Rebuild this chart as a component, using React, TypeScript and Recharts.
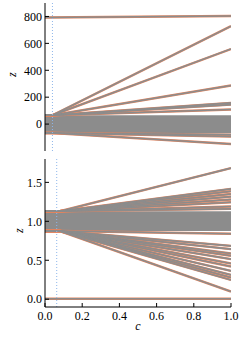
import React from "react";
import {
  ComposedChart,
  Line,
  Area,
  XAxis,
  YAxis,
  ReferenceLine,
} from "recharts";

// x values (c) shared by both panels
const xTicks = [0, 0.2, 0.4, 0.6, 0.8, 1.0];

// top panel
const topTicks = [-200, 0, 200, 400, 600, 800];
const topBand = [-66, 66];
const topFlat = [792, 803];
const topUpEnds = [728, 558, 287, 158, 145, 109];
const topDownEnds = [-78, -92, -148];
const topFan = { kink: 0.04, up: 66, down: -66 };
const topCut = 0.04;

// bottom panel
const botTicks = [0.0, 0.5, 1.0, 1.5];
const botBand = [0.875, 1.13];
const botFlat = [0.005, 0.005];
const botUpEnds = [1.683, 1.416, 1.387, 1.35, 1.317, 1.28, 1.245, 1.19, 1.16];
const botDownEnds = [
  0.84, 0.685, 0.643, 0.587, 0.557, 0.514, 0.459, 0.42, 0.363, 0.312, 0.278,
  0.247, 0.098,
];
const botFan = { kink: 0.08, up: 1.13, down: 0.875 };
const botCut = 0.063;

type Row = { c: number; band: number[]; [k: string]: number | number[] };

// one row per c value, one column per line (l0 = flat line, then fan lines)
const buildTable = (
  flat: number[],
  band: number[],
  fan: { kink: number; up: number; down: number },
  upEnds: number[],
  downEnds: number[]
) => {
  const rows: Row[] = [
    { c: 0, band, l0: flat[0] },
    { c: fan.kink, band },
    { c: 1, band, l0: flat[1] },
  ];
  const fans = [
    ...upEnds.map((e) => [fan.up, e]),
    ...downEnds.map((e) => [fan.down, e]),
  ];
  fans.forEach(([s, e], i) => {
    const k = "l" + (i + 1);
    rows[0][k] = s;
    rows[1][k] = s;
    rows[2][k] = e;
  });
  return { rows, keys: ["l0", ...fans.map((_, i) => "l" + (i + 1))] };
};

const GRAY = "#8c8c8c";
const ORANGE = "#e2845f";
const FONT = "'Liberation Serif', 'DejaVu Serif', serif";
const tickStyle = { fontFamily: FONT, fontSize: 12, fill: "#000" };
const labelStyle = { fontFamily: FONT, fontSize: 12, fontStyle: "italic", fill: "#000" };

const minus = (s: string) => s.replace("-", "\u2212");

type PanelProps = {
  height: number;
  margin: { top: number; right: number; bottom: number; left: number };
  yDomain: [number, number];
  yTicks: number[];
  yFmt: (v: number) => string;
  table: { rows: Row[]; keys: string[] };
  cut: number;
  showX: boolean;
  zOffset: number;
};

const Panel = ({
  height,
  margin,
  yDomain,
  yTicks,
  yFmt,
  table,
  cut,
  showX,
  zOffset,
}: PanelProps) => (
  <ComposedChart width={241} height={height} margin={margin} data={table.rows}>
    <XAxis
      dataKey="c"
      type="number"
      domain={[0, 1]}
      ticks={xTicks}
      allowDataOverflow
      height={showX ? 31 : 0}
      tick={showX ? tickStyle : false}
      tickSize={-4}
      tickMargin={8}
      tickFormatter={(v: number) => v.toFixed(1)}
      stroke="#000"
      label={
        showX
          ? { value: "c", position: "insideBottom", offset: 8, style: labelStyle }
          : undefined
      }
    />
    <XAxis
      xAxisId="top"
      dataKey="c"
      orientation="top"
      type="number"
      domain={[0, 1]}
      ticks={xTicks}
      allowDataOverflow
      height={0}
      tick={false}
      tickSize={-4}
      stroke="#000"
    />
    <YAxis
      type="number"
      domain={yDomain}
      ticks={yTicks}
      allowDataOverflow
      width={45}
      tick={tickStyle}
      tickSize={-4}
      tickMargin={7}
      tickFormatter={(v: number) => minus(yFmt(v))}
      stroke="#000"
      label={{
        value: "z",
        angle: -90,
        position: "insideLeft",
        offset: zOffset,
        style: labelStyle,
      }}
    />
    <YAxis
      yAxisId="r"
      orientation="right"
      type="number"
      domain={yDomain}
      ticks={yTicks}
      allowDataOverflow
      width={0}
      tick={false}
      tickSize={-4}
      stroke="#000"
    />
    {table.keys.map((k) => (
      <Line
        key={"o" + k}
        dataKey={k}
        type="linear"
        stroke={ORANGE}
        strokeWidth={2.4}
        dot={false}
        activeDot={false}
        connectNulls
        isAnimationActive={false}
      />
    ))}
    {table.keys.map((k) => (
      <Line
        key={"g" + k}
        dataKey={k}
        type="linear"
        stroke={GRAY}
        strokeWidth={1.6}
        dot={false}
        activeDot={false}
        connectNulls
        isAnimationActive={false}
      />
    ))}
    <Area
      dataKey="band"
      type="linear"
      fill={GRAY}
      fillOpacity={1}
      stroke="none"
      activeDot={false}
      isAnimationActive={false}
    />
    <ReferenceLine x={cut} stroke="#8fb6ea" strokeDasharray="1 2" strokeWidth={1} />
  </ComposedChart>
);

export default function App() {
  const topTable = buildTable(topFlat, topBand, topFan, topUpEnds, topDownEnds);
  const botTable = buildTable(botFlat, botBand, botFan, botUpEnds, botDownEnds);
  return (
    <div
      style={{
        position: "absolute",
        left: 0,
        top: 0,
        width: 241,
        height: 338,
        background: "#fff",
        fontFamily: FONT,
      }}
    >
      <style>{`svg text { font-family: "Liberation Serif", serif !important; }`}</style>
      <Panel
        height={155}
        margin={{ top: 3, right: 10, bottom: 4, left: 0 }}
        yDomain={[-200, 900]}
        yTicks={topTicks}
        yFmt={(v) => String(v)}
        table={topTable}
        cut={topCut}
        showX={false}
        zOffset={12}
      />
      <Panel
        height={183}
        margin={{ top: 4, right: 10, bottom: 0, left: 0 }}
        yDomain={[-0.1, 1.8]}
        yTicks={botTicks}
        yFmt={(v) => v.toFixed(1)}
        table={botTable}
        cut={botCut}
        showX={true}
        zOffset={19}
      />
    </div>
  );
}
